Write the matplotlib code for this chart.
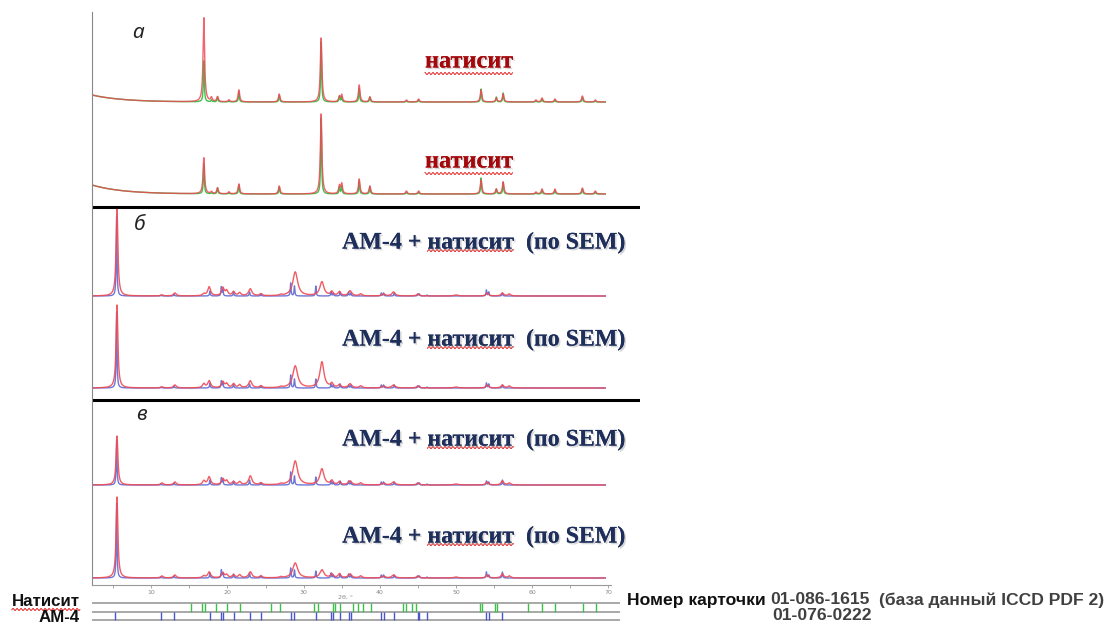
import numpy as np
import matplotlib
matplotlib.use('Agg')
import matplotlib.pyplot as plt
from matplotlib import patheffects as pe
from matplotlib.lines import Line2D
from matplotlib.transforms import IdentityTransform

W, H = 1110, 625

# 2theta grid of the measured patterns
tt = np.linspace(2.22, 69.6, 8000)

# panel а: натисит (red = measured, green = reference profile)
nat_pos  = [16.9, 17.9, 18.7, 20.2, 21.5, 26.8, 32.3, 34.7, 35.0, 37.3, 38.7,
            43.5, 45.1, 53.3, 55.3, 56.2, 60.5, 61.3, 63.0, 66.6, 68.3]
a1_red   = [84, 4, 5, 2, 12, 8, 64, 5, 7, 17, 5, 2, 3, 12, 4, 8, 2, 4, 3, 6, 2]
a1_green = [41, 2, 5, 1, 10, 7, 60, 6, 5, 14, 5, 1, 2, 13, 5, 9, 1, 3, 2, 5, 1]
a2_red   = [36, 2, 6, 2, 10, 8, 80, 8, 10, 15, 8, 3, 3, 14, 5, 12, 2, 5, 5, 6, 3]
a2_green = [30, 1, 6, 1, 9, 7, 76, 7, 8, 13, 7, 2, 2, 16, 5, 12, 1, 4, 4, 5, 2]
a_bg     = [7, 9]          # low-angle background rise

# panels б, в: АМ-4 + натисит (red = measured)
mix_pos = [5.5, 11.4, 13.1, 16.9, 17.6, 19.4, 19.9, 20.8, 21.6, 23.0, 24.4, 27.0,
           28.9, 32.4, 33.7, 34.7, 36.1, 37.5, 40.5, 41.8, 45.0, 50.0, 54.1, 56.1, 57.0]
mix_hw  = [0.14, 0.2, 0.2, 0.2, 0.22, 0.2, 0.2, 0.2, 0.2, 0.25, 0.2, 0.2,
           0.38, 0.32, 0.2, 0.2, 0.25, 0.2, 0.2, 0.25, 0.2, 0.3, 0.2, 0.2, 0.2]
b1_red = [87, 1, 3, 2, 9, 8, 5, 4, 3, 7, 2, 1, 24, 14, 4, 4, 5, 2, 2, 4, 2, 1, 3, 3, 2]
b2_red = [83, 1, 3, 4, 7, 6, 4, 4, 3, 7, 2, 1, 22, 26, 4, 3, 4, 2, 2, 3, 2, 1, 3, 3, 2]
c1_red = [49, 2, 3, 4, 8, 6, 4, 3, 3, 9, 2, 1, 24, 16, 4, 3, 4, 2, 2, 3, 2, 1, 3, 4, 2]
c2_red = [81, 2, 3, 2, 6, 5, 3, 3, 3, 6, 2, 1, 15, 8, 4, 4, 4, 2, 2, 3, 2, 1, 3, 4, 2]

# АМ-4 reference profile (blue)
am_pos  = [5.45, 11.3, 13.0, 17.7, 19.2, 19.4, 20.8, 22.9, 24.4, 28.3, 28.8, 31.6, 33.6,
           33.9, 34.8, 35.9, 36.2, 40.2, 40.5, 41.9, 45.0, 45.2, 46.2, 54.0, 54.3, 56.1]
b1_blue = [80, 1, 2, 5, 9, 6, 4, 4, 2, 13, 10, 10, 4, 3, 4, 4, 3, 3, 3, 3, 2, 2, 1, 6, 4, 3]
b2_blue = [76, 1, 2, 5, 7, 5, 4, 4, 2, 13, 9, 9, 4, 3, 4, 3, 3, 3, 3, 3, 2, 2, 1, 5, 4, 3]
c1_blue = [45, 1, 2, 5, 7, 5, 4, 5, 2, 13, 9, 8, 4, 3, 4, 4, 3, 3, 3, 3, 2, 2, 1, 4, 3, 5]
c2_blue = [75, 1, 2, 5, 8, 5, 4, 5, 2, 10, 8, 7, 5, 3, 4, 4, 3, 3, 3, 3, 2, 2, 1, 6, 3, 6]

# stick patterns (ICCD cards)
nat_sticks = [15.2, 16.7, 17.0, 18.5, 20.0, 21.6, 25.7, 26.9, 31.3, 31.9, 33.8, 34.1,
              34.8, 36.5, 37.2, 37.8, 38.8, 43.1, 43.5, 44.2, 44.8, 53.1, 53.4, 55.1,
              55.4, 59.5, 61.3, 63.0, 66.7, 68.4]
am_sticks = [5.2, 11.3, 13.0, 17.7, 19.2, 19.4, 20.8, 22.9, 24.4, 28.3, 28.8, 31.6,
             33.6, 33.9, 34.8, 35.9, 36.2, 40.2, 40.5, 41.9, 45.0, 45.2, 46.2, 54.0,
             54.3, 56.1]

x_ticks = [10, 20, 30, 40, 50, 60, 70]

RED, GREEN, BLUE = '#ee4a55', '#3fbf4a', '#4a55cc'
NAVY, DARKRED = '#1f2f5c', '#a3080c'


def profil(pos, amp, hw):
    hw = np.broadcast_to(hw, len(pos))
    y = np.zeros_like(tt)
    for c, a, w in zip(pos, amp, hw):
        y += a / (1 + ((tt - c) / w) ** 2)
    return y


def box(x0, y0, x1, y1):
    return [x0 / W, 1 - y1 / H, (x1 - x0) / W, (y1 - y0) / H]


def px2theta(px):
    return (px - 75.1) / 7.617


fig = plt.figure(figsize=(W / 100, H / 100), dpi=100)

ax = fig.add_axes(box(92, 12, 640, 585))
ax.set_xlim(px2theta(92), px2theta(640))
ax.set_ylim(0, 573)

# baselines of the six patterns (height above the axis)
base = [483, 391, 289, 197, 100, 7]

bg = np.exp(-(tt - tt[0]) / 4.0)
for b, amp_bg, red, green in [(base[0], a_bg[0], a1_red, a1_green),
                              (base[1], a_bg[1], a2_red, a2_green)]:
    ax.plot(tt, b + amp_bg * bg + profil(nat_pos, green, 0.07), color=GREEN, lw=1)
    ax.plot(tt, b + amp_bg * bg + profil(nat_pos, red, 0.12), color=RED, lw=1, alpha=0.85)

for b, red, blue in zip(base[2:], [b1_red, b2_red, c1_red, c2_red],
                        [b1_blue, b2_blue, c1_blue, c2_blue]):
    ax.plot(tt, b + profil(am_pos, blue, 0.06), color=BLUE, lw=1, alpha=0.8)
    ax.plot(tt, b + profil(mix_pos, red, mix_hw), color=RED, lw=1, alpha=0.9)

# separators between panels
for ysep in [378, 185]:
    ax.axhline(ysep, color='black', lw=2.2)

for s in ['top', 'right']:
    ax.spines[s].set_visible(False)
ax.spines['left'].set_color('#888888')
ax.spines['bottom'].set_color('#999999')
ax.spines['bottom'].set_linewidth(0.8)
ax.spines['bottom'].set_bounds(px2theta(92), 70.4)
ax.set_yticks([])
ax.set_xticks(x_ticks)
ax.set_xticks(np.arange(5, 71, 5), minor=True)
ax.tick_params(axis='x', which='both', length=2.5, width=0.6, color='#999999',
               labelsize=4.5, labelcolor='#888888', pad=1)
fig.text(345 / W, 1 - 597 / H, '2θ, °', fontsize=4.5, color='#888888', ha='center', va='center')

# panel letters
lab = dict(fontsize=15, style='italic', family='Noto Sans', color='#222222', va='center')
fig.text(132 / W, 1 - 32 / H, 'а', **lab)
fig.text(134 / W, 1 - 225 / H, 'б', **lab)
fig.text(136 / W, 1 - 415 / H, 'в', **lab)

shadow = [pe.withSimplePatchShadow(offset=(1.2, -1.2), shadow_rgbFace='#888888', alpha=0.35),
          pe.Normal()]
titles = []
for y in [62, 162]:
    t = fig.text(425 / W, 1 - y / H, 'натисит', fontsize=17.5, weight='bold',
                 family='Liberation Serif', color=DARKRED, va='center', path_effects=shadow)
    titles.append(t)
for y in [243, 340, 440, 537]:
    t = fig.text(625 / W, 1 - y / H, 'АМ-4 + натисит  (по SEM)', fontsize=17.2, weight='bold',
                 family='Liberation Serif', color=NAVY, ha='right', va='center',
                 path_effects=shadow)
    titles.append(t)

# stick patterns below
axs = fig.add_axes(box(92, 598, 620, 624))
axs.set_xlim(px2theta(92), px2theta(620))
axs.set_ylim(-0.47, 2.59)
axs.axis('off')
for y in [0, 1, 2]:
    axs.axhline(y, color='#999999', lw=1.2)
axs.vlines(nat_sticks, 1, 2, color=GREEN, lw=1)
axs.vlines(am_sticks, 0, 1, color=BLUE, lw=1)

side = dict(weight='bold', family='Liberation Sans', va='center')
t_nat = fig.text(80 / W, 1 - 601 / H, 'Натисит', ha='right', color='#111111', fontsize=12.2, **side)
fig.text(80 / W, 1 - 617 / H, 'АМ-4', ha='right', color='#111111', fontsize=12.2, **side)
fig.text(627 / W, 1 - 600 / H, 'Номер карточки', color='#111111', fontsize=12.6, **side)
fig.text(770 / W, 1 - 600 / H, '01-086-1615', color='#404040', fontsize=12.6, **side)
fig.text(879 / W, 1 - 600 / H, '(база данный ICCD PDF 2)', color='#404040', fontsize=12.6, **side)
fig.text(772 / W, 1 - 616 / H, '01-076-0222', color='#404040', fontsize=12.6, **side)

# spell-check wavy underline under "натисит"
fig.canvas.draw()
r = fig.canvas.get_renderer()
for t in titles + [t_nat]:
    full = t.get_text()
    word = 'натисит' if 'натисит' in full else 'Натисит'
    i = full.index(word)
    fp = t.get_fontproperties()
    w1 = r.get_text_width_height_descent(full[:i + len(word)], fp, ismath=False)[0]
    w0 = w1 - r.get_text_width_height_descent(word, fp, ismath=False)[0]
    bb = t.get_window_extent(r)
    xs = np.arange(bb.x0 + w0, bb.x0 + w1, 0.5)
    ys = bb.y0 + (3 if '(' in full else -1) + 1.0 * np.sin(xs * 2 * np.pi / 4)
    fig.add_artist(Line2D(xs, ys, transform=IdentityTransform(), color='#e02020', lw=0.7))

fig.savefig('out.png', dpi=100)
